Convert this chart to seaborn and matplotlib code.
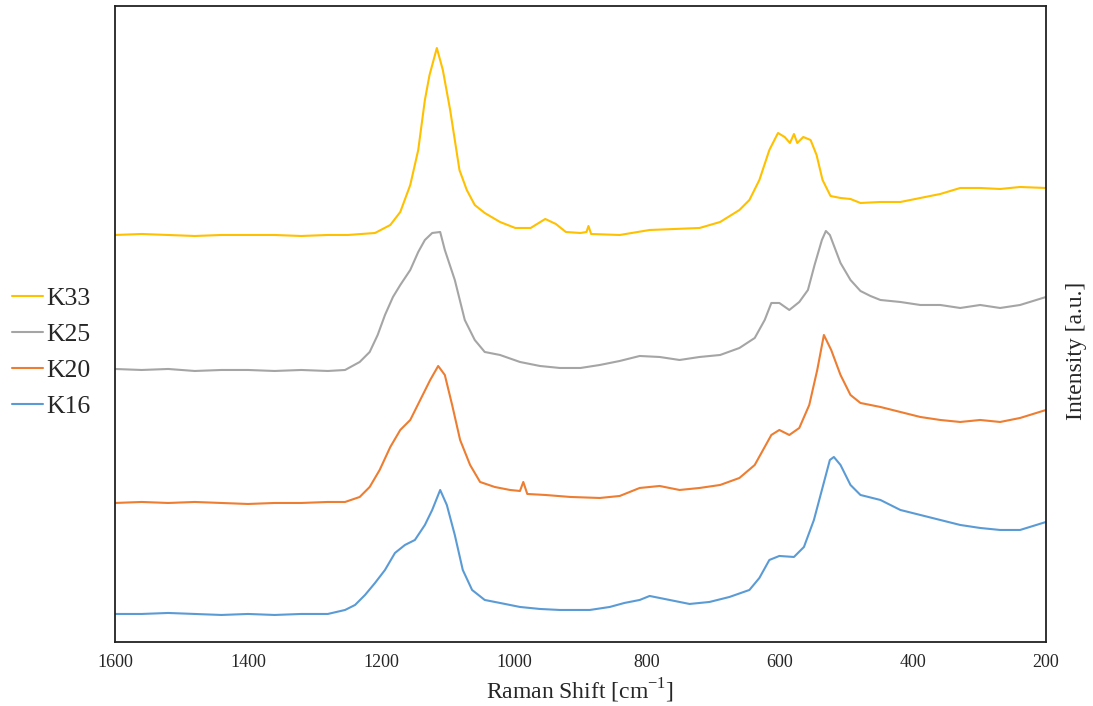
import numpy as np
import pandas as pd
import matplotlib
matplotlib.use("Agg")
import matplotlib.pyplot as plt
import seaborn as sns

# Raman shift (cm-1) and intensity (a.u.)
k33_x = [1600, 1560, 1520, 1480, 1440, 1400, 1360, 1320, 1280, 1250, 1209, 1186, 1171, 1156, 1144, 1134,
         1127, 1116, 1107, 1096, 1089, 1082, 1071, 1059, 1044, 1021, 998, 975, 953, 937, 922, 900,
         891, 888, 884, 841, 796, 721, 690, 661, 646, 631, 616, 603, 593, 585, 579, 574, 565, 554,
         545, 536, 524, 509, 494, 479, 449, 419, 389, 359, 329, 299, 269, 239, 200]
k33_y = [407, 408, 407, 406, 407, 407, 407, 406, 407, 407, 409, 417, 430, 457, 492, 542,
         567, 594, 572, 532, 502, 472, 452, 437, 429, 420, 414, 414, 423, 418, 410, 409,
         410, 416, 408, 407, 412, 414, 420, 432, 442, 462, 492, 509, 505, 499, 508, 499, 505, 502,
         487, 462, 446, 444, 443, 439, 440, 440, 444, 448, 454, 454, 453, 455, 454]

k25_x = [1600, 1560, 1520, 1480, 1440, 1400, 1360, 1320, 1280, 1254, 1232, 1217, 1205, 1194, 1182,
         1171, 1156, 1144, 1134, 1123, 1111, 1104, 1089, 1074, 1059, 1044, 1021, 991, 961, 931,
         900, 871, 841, 811, 781, 751, 721, 690, 661, 638, 623, 613, 601, 586, 571, 558, 548, 537,
         531, 525, 509, 494, 479, 464, 449, 419, 389, 359, 329, 299, 269, 239, 200]
k25_y = [273, 272, 273, 271, 272, 272, 271, 272, 271, 272, 280, 290, 307, 327, 345,
         357, 372, 390, 402, 409, 410, 392, 362, 322, 302, 290, 287, 280, 276, 274,
         274, 277, 281, 286, 285, 282, 285, 287, 294, 304, 322, 339, 339, 332, 340, 352, 377, 402,
         411, 407, 379, 362, 351, 346, 342, 340, 337, 337, 334, 337, 334, 337, 345]

k20_x = [1600, 1560, 1520, 1480, 1440, 1400, 1360, 1320, 1280, 1254, 1232, 1217, 1202, 1186, 1171,
         1156, 1141, 1126, 1114, 1104, 1093, 1081, 1066, 1051, 1029, 1006, 991, 986, 980, 953, 915,
         871, 841, 811, 781, 751, 721, 690, 661, 638, 623, 613, 601, 586, 571, 556, 544, 534, 523,
         509, 494, 479, 464, 449, 419, 389, 359, 329, 299, 269, 239, 200]
k20_y = [139, 140, 139, 140, 139, 138, 139, 139, 140, 140, 145, 155, 172, 195, 212,
         222, 242, 262, 276, 267, 237, 202, 177, 160, 155, 152, 151, 160, 148, 147, 145,
         144, 146, 154, 156, 152, 154, 157, 164, 177, 195, 207, 212, 207, 214, 237, 272, 307, 292,
         267, 247, 239, 237, 235, 230, 225, 222, 220, 222, 220, 224, 232]

k16_x = [1600, 1560, 1520, 1480, 1440, 1400, 1360, 1320, 1280, 1254, 1239, 1224, 1209, 1194, 1179,
         1164, 1149, 1134, 1123, 1111, 1101, 1089, 1077, 1063, 1044, 1021, 991, 961, 931, 886, 856,
         834, 811, 796, 766, 736, 706, 676, 646, 631, 616, 601, 579, 564, 549, 537, 525, 519, 509,
         494, 479, 449, 419, 389, 359, 329, 299, 269, 239, 200]
k16_y = [28, 28, 29, 28, 27, 28, 27, 28, 28, 32, 37, 47, 59, 72, 89,
         97, 102, 117, 132, 152, 137, 107, 72, 52, 42, 39, 35, 33, 32, 32, 35,
         39, 42, 46, 42, 38, 40, 45, 52, 64, 82, 86, 85, 95, 122, 152, 182, 185, 177,
         157, 147, 142, 132, 127, 122, 117, 114, 112, 112, 120]

series = ["K33", "K25", "K20", "K16"]
colors = ["#FFC000", "#A5A5A5", "#ED7D31", "#5B9BD5"]
xticks = [1600, 1400, 1200, 1000, 800, 600, 400, 200]

frames = []
for name, xs, ys in [("K33", k33_x, k33_y), ("K25", k25_x, k25_y),
                     ("K20", k20_x, k20_y), ("K16", k16_x, k16_y)]:
    frames.append(pd.DataFrame({"shift": xs, "intensity": ys, "sample": name}))
df = pd.concat(frames, ignore_index=True)

sns.set_style("white")
plt.rcParams["font.family"] = ["Liberation Serif", "DejaVu Serif"]

fig = plt.figure(figsize=(10.93, 7.06), dpi=100)
ax = fig.add_axes([0.1052, 0.0907, 0.8518, 0.9008])

sns.lineplot(data=df, x="shift", y="intensity", hue="sample", hue_order=series,
             palette=colors, linewidth=1.5, sort=False, estimator=None, ax=ax)

ax.set_xlim(1600, 200)
ax.set_ylim(0, 636)
ax.set_xticks(xticks)
ax.set_yticks([])
ax.tick_params(axis="x", labelsize=13, length=0, pad=9)
ax.set_xlabel("Raman Shift [cm$^{\\mathregular{-1}}$]", fontsize=17, labelpad=4)
ax.set_ylabel("Intensity [a.u.]", fontsize=17)
ax.yaxis.set_label_position("right")
ax.yaxis.set_label_coords(1.022, 0.4575)
for s in ax.spines.values():
    s.set_color("#222222")
    s.set_linewidth(1.3)

ax.legend(loc="center left", bbox_to_anchor=(0.011, 0.501), bbox_transform=fig.transFigure,
          frameon=False, fontsize=18.5, handlelength=1.2, handletextpad=0.15,
          labelspacing=0.5, borderpad=0, borderaxespad=0)

fig.savefig("out.png", dpi=100)
